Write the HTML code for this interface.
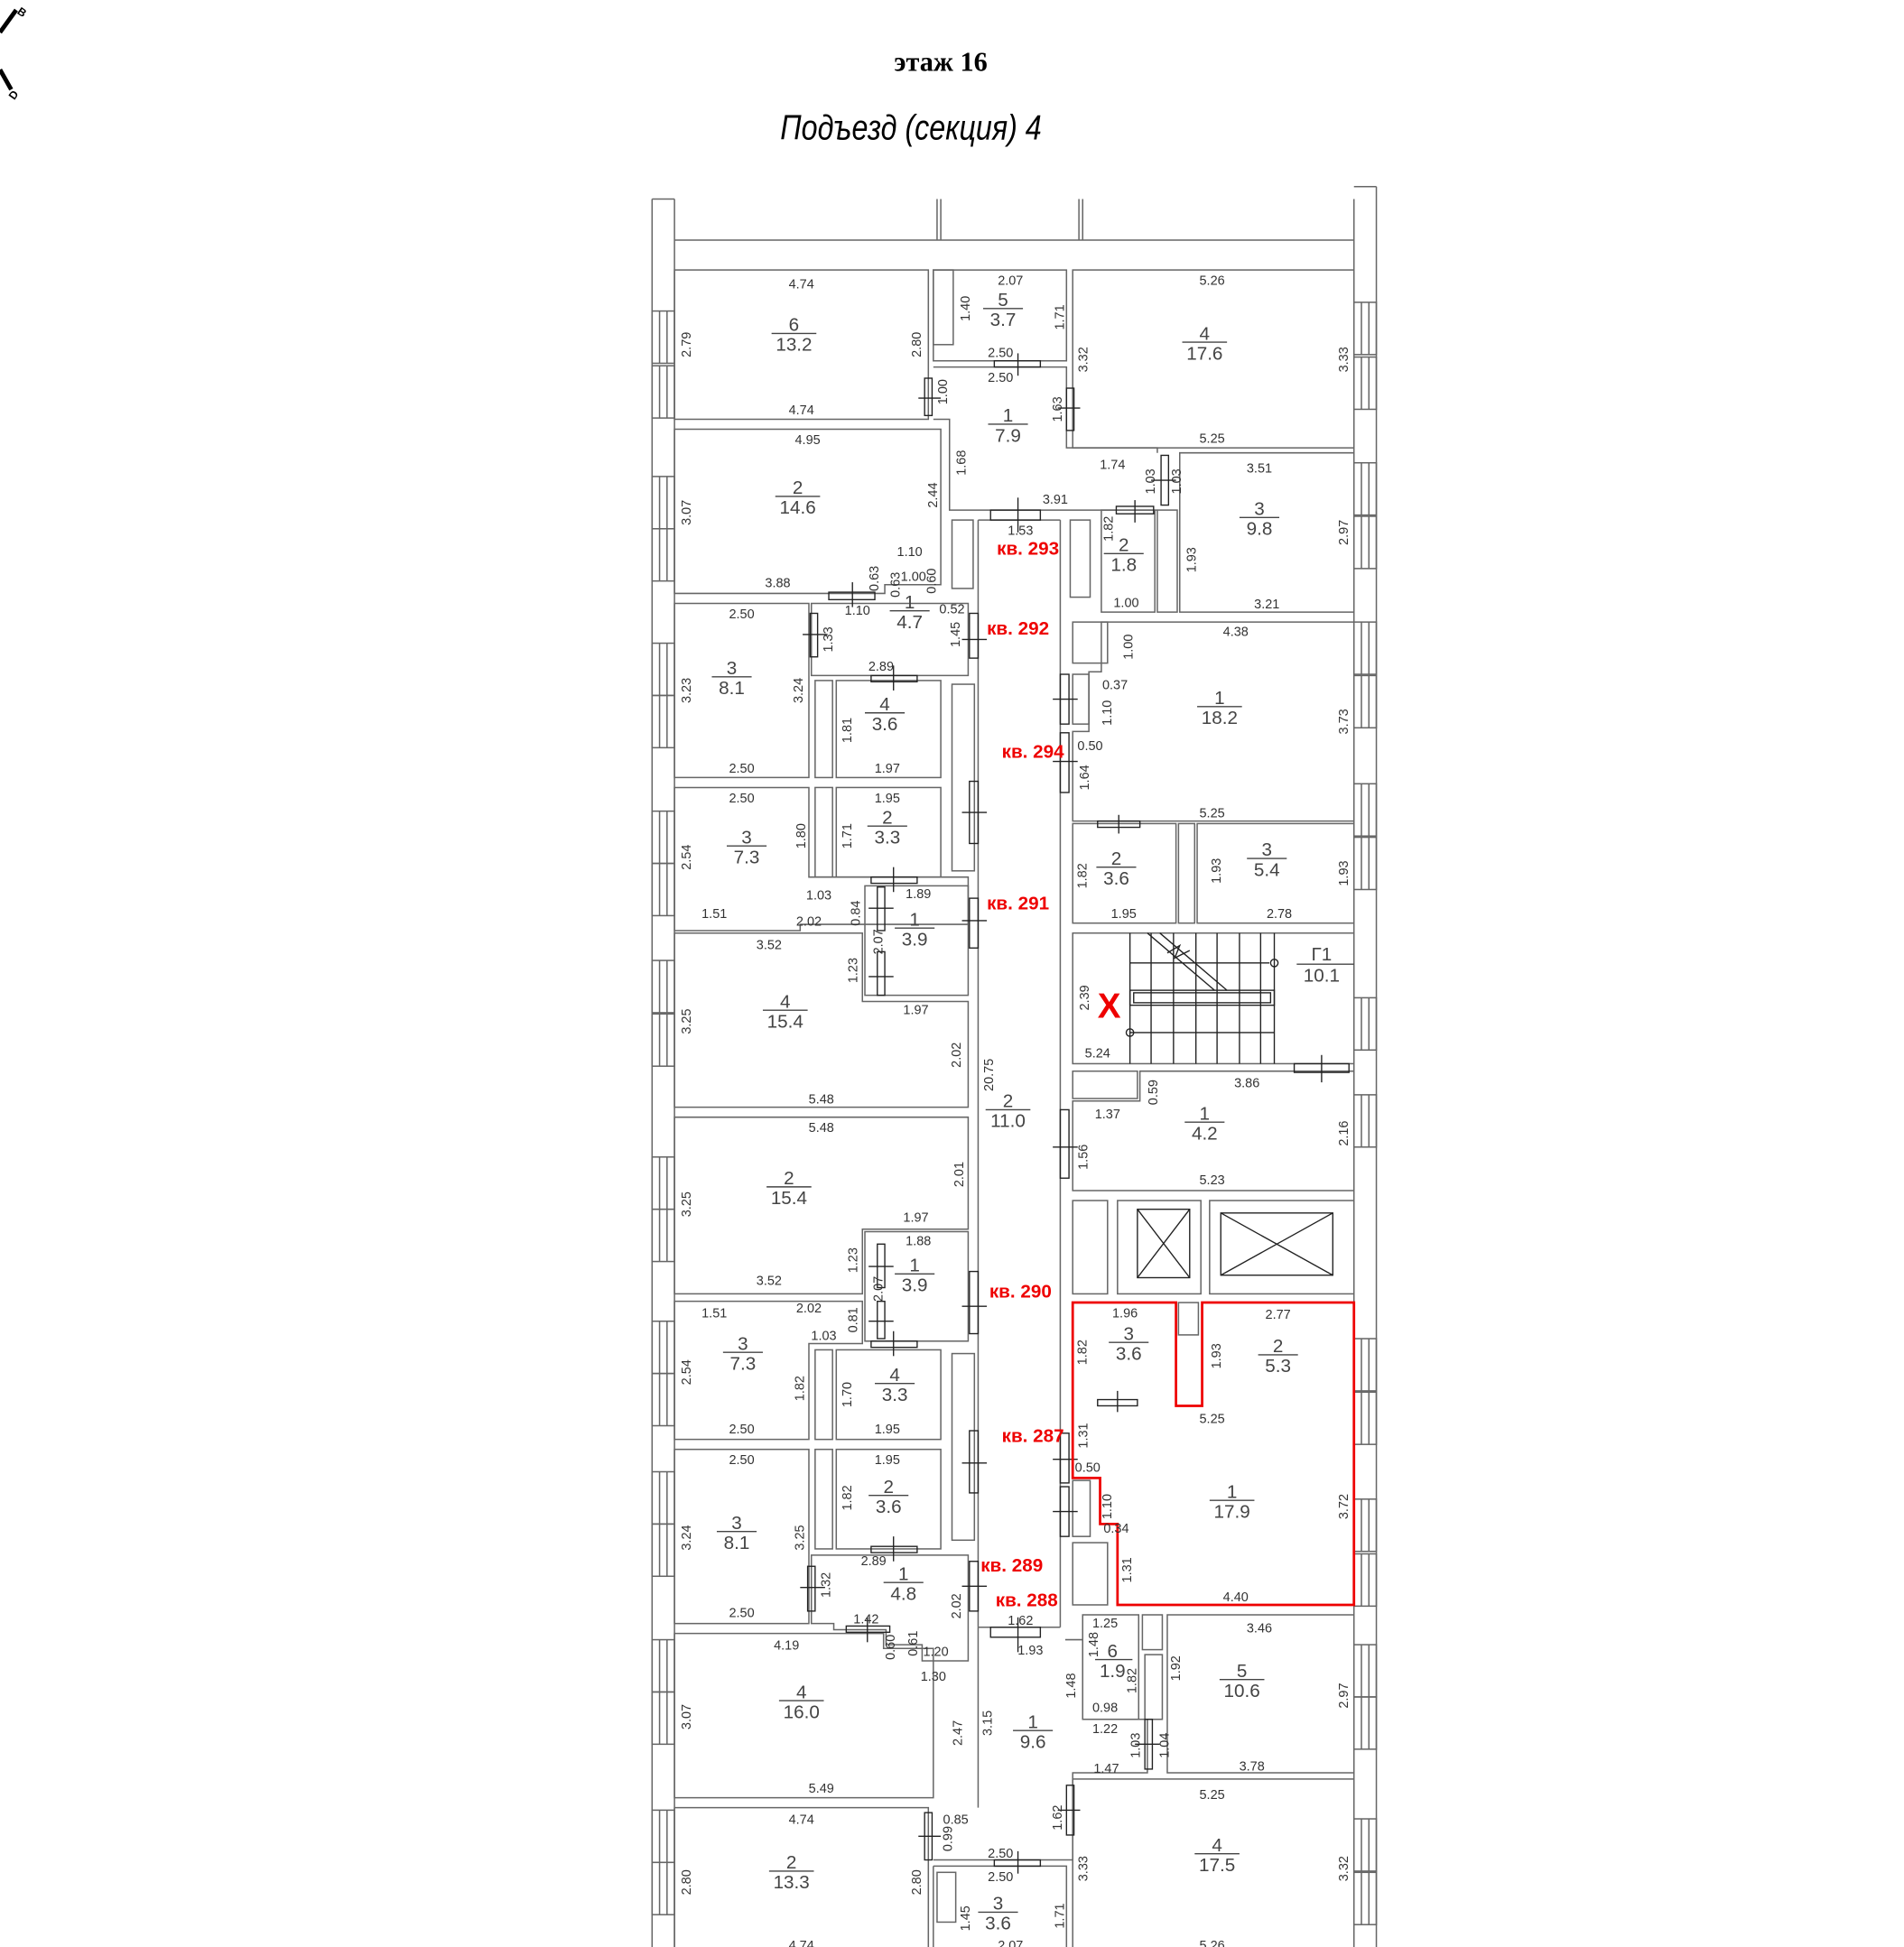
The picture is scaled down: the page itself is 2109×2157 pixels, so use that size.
<!DOCTYPE html>
<html><head><meta charset="utf-8"><style>
html,body{margin:0;padding:0;background:#fff}
svg{display:block}
text{font-family:"Liberation Sans",sans-serif}
.d{font-size:10.5px;fill:#333;text-anchor:middle}
.n{font-size:15px;fill:#444;text-anchor:middle}
.r{font-size:15px;fill:#e00;font-weight:bold;text-anchor:start}
.w{fill:none;stroke:#666;stroke-width:1.1}
.k{fill:none;stroke:#222;stroke-width:1}
.red{fill:none;stroke:#e00;stroke-width:2}
</style></head><body>
<svg width="2109" height="2157" viewBox="0 0 1530 1565" preserveAspectRatio="none" xmlns="http://www.w3.org/2000/svg">
<defs>
<g id="wl"><rect x="524" y="0" width="18" height="42" class="w"/><line x1="530" y1="0" x2="530" y2="42" class="w"/><line x1="536" y1="0" x2="536" y2="42" class="w"/></g>
<g id="wr"><rect x="1088" y="0" width="18" height="42" class="w"/><line x1="1094" y1="0" x2="1094" y2="42" class="w"/><line x1="1100" y1="0" x2="1100" y2="42" class="w"/></g>
</defs>
<!-- corner mark -->
<path d="M0 26 L13 8 M0 56 L9 72" stroke="#000" stroke-width="3.5" fill="none"/>
<text x="15" y="11" style="font-size:9px;font-weight:bold" transform="rotate(35 15 8)">В</text>
<text x="7" y="80" style="font-size:9px;font-weight:bold" transform="rotate(-55 10 76)">D</text>
<text x="756" y="57" style="font-family:'Liberation Serif',serif;font-size:22px;font-weight:bold" text-anchor="middle">этаж 16</text>
<text x="732" y="112" style="font-size:28px;font-style:italic" text-anchor="middle" textLength="210" lengthAdjust="spacingAndGlyphs">Подъезд (секция) 4</text>

<!-- outer walls -->
<path d="M524 160 V1568 M542 193 V1568 M1088 193 V1568 M1106 150 V1568 M524 160 H542 M1088 150 H1106 M542 193 H1088 M542 160 V193 M753 160 V193 M756 160 V193 M867 160 V193 M870 160 V193 M1088 160 V193" class="w"/>
<use href="#wl" y="250"/><use href="#wl" y="294"/><use href="#wl" y="383"/><use href="#wl" y="425"/>
<use href="#wl" y="517"/><use href="#wl" y="559"/><use href="#wl" y="652"/><use href="#wl" y="694"/>
<use href="#wl" y="772"/><use href="#wl" y="815"/><use href="#wl" y="930"/><use href="#wl" y="972"/>
<use href="#wl" y="1062"/><use href="#wl" y="1104"/><use href="#wl" y="1183"/><use href="#wl" y="1225"/>
<use href="#wl" y="1318"/><use href="#wl" y="1360"/><use href="#wl" y="1455"/><use href="#wl" y="1497"/>
<use href="#wr" y="243"/><use href="#wr" y="287"/><use href="#wr" y="372"/><use href="#wr" y="415"/>
<use href="#wr" y="500"/><use href="#wr" y="543"/><use href="#wr" y="630"/><use href="#wr" y="673"/>
<use href="#wr" y="802"/><use href="#wr" y="880"/><use href="#wr" y="1076"/><use href="#wr" y="1119"/>
<use href="#wr" y="1205"/><use href="#wr" y="1249"/><use href="#wr" y="1322"/><use href="#wr" y="1364"/>
<use href="#wr" y="1462"/><use href="#wr" y="1505"/>

<g class="w">
<rect x="542" y="217" width="204" height="120"/>
<path d="M542 345 H756 V470 H711 V477 H542 Z"/>
<path d="M542 485 H650 V625 H542 Z"/>
<path d="M652 485 H778 V543 H652 Z"/>
<rect x="672" y="547" width="84" height="78"/>
<rect x="655" y="547" width="14" height="78"/>
<path d="M542 633 H650 V705 H778 V743 H643 V748 H542 Z"/>
<rect x="672" y="633" width="84" height="72"/>
<rect x="655" y="633" width="14" height="72"/>
<path d="M695 712 H778 V800 H695 Z"/>
<path d="M542 750 H693 V805 H778 V890 H542 Z"/>
<path d="M542 898 H778 V988 H693 V1040 H542 Z"/>
<rect x="695" y="990" width="83" height="88"/>
<path d="M542 1046 H693 V1080 H650 V1157 H542 Z"/>
<rect x="672" y="1085" width="84" height="72"/>
<rect x="655" y="1085" width="14" height="72"/>
<rect x="542" y="1165" width="108" height="140"/>
<rect x="672" y="1165" width="84" height="80"/>
<rect x="655" y="1165" width="14" height="80"/>
<path d="M652 1250 H778 V1335 H741 V1322 H712 V1310 H670 V1305 H652 Z"/>
<path d="M542 1313 H710 V1325 H750 V1445 H542 Z"/>
<path d="M542 1453 H746 V1568 M542 1453 V1568"/>
<path d="M750 217 H857 V290 H750 Z"/>
<rect x="750" y="217" width="16" height="60"/>
<path d="M750 295 H857 V360 H930 V364 M750 337 H763 V410 H930"/>
<rect x="862" y="217" width="226" height="143"/>
<path d="M948 364 H1088 V492 H948 Z"/>
<rect x="885" y="410" width="43" height="82"/>
<rect x="930" y="410" width="16" height="82"/>
<rect x="765" y="418" width="17" height="55"/>
<rect x="860" y="418" width="16" height="62"/>
<path d="M786 418 V1308 M852 418 V1308 M786 418 H852"/>
<rect x="765" y="550" width="18" height="150"/>
<rect x="765" y="1088" width="18" height="150"/>
<rect x="862" y="500" width="28" height="33"/>
<rect x="862" y="542" width="13" height="40"/>
<path d="M885 500 H1088 V660 H862 V588 H875 V540 H885 Z"/>
<rect x="862" y="662" width="83" height="80"/>
<rect x="947" y="662" width="13" height="80"/>
<rect x="962" y="662" width="126" height="80"/>
<rect x="862" y="750" width="226" height="105"/>
<rect x="862" y="861" width="52" height="22"/>
<path d="M916 861 H1088 V957 H862 V885 H916 Z"/>
<rect x="862" y="965" width="28" height="75"/>
<rect x="898" y="965" width="67" height="75"/>
<rect x="972" y="965" width="116" height="75"/>
<rect x="947" y="1047" width="16" height="26"/>
<rect x="862" y="1240" width="28" height="50"/>
<rect x="862" y="1190" width="14" height="45"/>
<rect x="870" y="1298" width="45" height="84"/>
<rect x="918" y="1298" width="16" height="28"/>
<rect x="920" y="1330" width="14" height="52"/>
<path d="M938 1298 H1088 V1425 H938 Z"/>
<path d="M786 1308 H852 M786 1308 V1453 M856 1318 H870 V1382 H922 V1425 H862 V1495 M750 1495 H862"/>
<rect x="862" y="1430" width="226" height="138"/>
<path d="M750 1500 H857 V1568 M750 1500 V1568"/>
<rect x="753" y="1505" width="15" height="40"/>
</g>
<g class="k"><rect x="914" y="972" width="42" height="55"/><path d="M914 972 L956 1027 M956 972 L914 1027"/>
<rect x="981" y="975" width="90" height="50"/><path d="M981 975 L1071 1025 M1071 975 L981 1025"/></g>
<g class="k">
<path d="M908 750 V855 M925 750 V855 M943 750 V855 M961 750 V855 M978 750 V855 M996 750 V855 M1013 750 V855 M1024 750 V855"/>
<path d="M908 774 H1020 M908 830 H1024"/>
<rect x="908" y="796" width="116" height="12"/><rect x="911" y="798" width="110" height="8"/>
<path d="M922 750 L976 796 M932 750 L986 796 M938 766 L948 760 L944 770 L956 764"/>
<circle cx="1024" cy="774" r="3"/><circle cx="908" cy="830" r="3"/>
</g>
<text x="882" y="818" style="font-size:28px;fill:#e00;font-weight:bold">X</text>
<g class="k">
<rect x="796" y="410" width="40" height="8"/><path d="M818 400 V428"/>
<rect x="897" y="407" width="30" height="6"/><path d="M912 402 V420"/>
<rect x="933" y="366" width="6" height="40"/><path d="M925 386 H945"/>
<rect x="799" y="290" width="37" height="5"/><path d="M818 284 V302"/>
<rect x="743" y="304" width="6" height="30"/><path d="M738 320 H756"/>
<rect x="857" y="312" width="6" height="34"/><path d="M850 328 H868"/>
<rect x="666" y="476" width="37" height="6"/><path d="M685 468 V488"/>
<rect x="651" y="493" width="6" height="35"/><path d="M645 510 H665"/>
<rect x="779" y="493" width="7" height="36"/><path d="M773 514 H793"/>
<rect x="700" y="543" width="37" height="5"/><path d="M718 535 V555"/>
<rect x="852" y="542" width="7" height="40"/><path d="M846 562 H866"/>
<rect x="852" y="589" width="7" height="48"/><path d="M846 612 H866"/>
<rect x="779" y="628" width="7" height="50"/><path d="M773 653 H793"/>
<rect x="700" y="705" width="37" height="5"/><path d="M718 697 V717"/>
<rect x="705" y="713" width="6" height="35"/><path d="M698 730 H718"/>
<rect x="705" y="765" width="6" height="35"/><path d="M698 785 H718"/>
<rect x="779" y="722" width="7" height="40"/><path d="M773 740 H793"/>
<rect x="882" y="660" width="34" height="5"/><path d="M899 655 V670"/>
<rect x="1040" y="855" width="44" height="7"/><path d="M1062 848 V870"/>
<rect x="852" y="892" width="7" height="55"/><path d="M846 922 H866"/>
<rect x="705" y="1000" width="6" height="35"/><path d="M698 1018 H718"/>
<rect x="705" y="1046" width="6" height="30"/><path d="M698 1062 H718"/>
<rect x="779" y="1022" width="7" height="50"/><path d="M773 1050 H793"/>
<rect x="700" y="1078" width="37" height="5"/><path d="M718 1070 V1090"/>
<rect x="779" y="1150" width="7" height="50"/><path d="M773 1176 H793"/>
<rect x="852" y="1152" width="7" height="40"/><path d="M846 1173 H866"/>
<rect x="852" y="1195" width="7" height="40"/><path d="M846 1215 H866"/>
<rect x="882" y="1125" width="32" height="5"/><path d="M898 1118 V1135"/>
<rect x="700" y="1243" width="37" height="5"/><path d="M718 1235 V1255"/>
<rect x="649" y="1259" width="6" height="36"/><path d="M643 1276 H663"/>
<rect x="779" y="1255" width="7" height="40"/><path d="M773 1275 H793"/>
<rect x="680" y="1307" width="35" height="5"/><path d="M697 1300 V1320"/>
<rect x="796" y="1308" width="40" height="8"/><path d="M818 1300 V1328"/>
<rect x="920" y="1382" width="6" height="40"/><path d="M912 1402 H932"/>
<rect x="857" y="1435" width="6" height="40"/><path d="M850 1455 H868"/>
<rect x="743" y="1457" width="6" height="38"/><path d="M738 1476 H756"/>
<rect x="799" y="1495" width="37" height="5"/><path d="M818 1488 V1506"/>
</g>
<path d="M862 1047 H945 V1130 H966 V1047 H1088 V1290 H898 V1225 H884 V1188 H862 Z" class="red"/>

<g class="n">
<text x="638" y="266">6</text><text x="638" y="282">13.2</text><line x1="620" y1="268" x2="656" y2="268" stroke="#444"/>
<text x="641" y="397">2</text><text x="641" y="413">14.6</text><line x1="623" y1="399" x2="659" y2="399" stroke="#444"/>
<text x="806" y="246">5</text><text x="806" y="262">3.7</text><line x1="790" y1="248" x2="822" y2="248" stroke="#444"/>
<text x="968" y="273">4</text><text x="968" y="289">17.6</text><line x1="950" y1="275" x2="986" y2="275" stroke="#444"/>
<text x="810" y="339">1</text><text x="810" y="355">7.9</text><line x1="794" y1="341" x2="826" y2="341" stroke="#444"/>
<text x="1012" y="414">3</text><text x="1012" y="430">9.8</text><line x1="996" y1="416" x2="1028" y2="416" stroke="#444"/>
<text x="903" y="443">2</text><text x="903" y="459">1.8</text><line x1="887" y1="445" x2="919" y2="445" stroke="#444"/>
<text x="731" y="489">1</text><text x="731" y="505">4.7</text><line x1="715" y1="491" x2="747" y2="491" stroke="#444"/>
<text x="588" y="542">3</text><text x="588" y="558">8.1</text><line x1="572" y1="544" x2="604" y2="544" stroke="#444"/>
<text x="711" y="571">4</text><text x="711" y="587">3.6</text><line x1="695" y1="573" x2="727" y2="573" stroke="#444"/>
<text x="980" y="566">1</text><text x="980" y="582">18.2</text><line x1="962" y1="568" x2="998" y2="568" stroke="#444"/>
<text x="713" y="662">2</text><text x="713" y="678">3.3</text><line x1="697" y1="664" x2="729" y2="664" stroke="#444"/>
<text x="600" y="678">3</text><text x="600" y="694">7.3</text><line x1="584" y1="680" x2="616" y2="680" stroke="#444"/>
<text x="897" y="695">2</text><text x="897" y="711">3.6</text><line x1="881" y1="697" x2="913" y2="697" stroke="#444"/>
<text x="1018" y="688">3</text><text x="1018" y="704">5.4</text><line x1="1002" y1="690" x2="1034" y2="690" stroke="#444"/>
<text x="735" y="744">1</text><text x="735" y="760">3.9</text><line x1="719" y1="746" x2="751" y2="746" stroke="#444"/>
<text x="1062" y="772">Г1</text><text x="1062" y="789">10.1</text><line x1="1042" y1="775" x2="1088" y2="775" stroke="#444"/>
<text x="631" y="810">4</text><text x="631" y="826">15.4</text><line x1="613" y1="812" x2="649" y2="812" stroke="#444"/>
<text x="810" y="890">2</text><text x="810" y="906">11.0</text><line x1="792" y1="892" x2="828" y2="892" stroke="#444"/>
<text x="968" y="900">1</text><text x="968" y="916">4.2</text><line x1="952" y1="902" x2="984" y2="902" stroke="#444"/>
<text x="634" y="952">2</text><text x="634" y="968">15.4</text><line x1="616" y1="954" x2="652" y2="954" stroke="#444"/>
<text x="735" y="1022">1</text><text x="735" y="1038">3.9</text><line x1="719" y1="1024" x2="751" y2="1024" stroke="#444"/>
<text x="907" y="1077">3</text><text x="907" y="1093">3.6</text><line x1="891" y1="1079" x2="923" y2="1079" stroke="#444"/>
<text x="1027" y="1087">2</text><text x="1027" y="1103">5.3</text><line x1="1011" y1="1089" x2="1043" y2="1089" stroke="#444"/>
<text x="597" y="1085">3</text><text x="597" y="1101">7.3</text><line x1="581" y1="1087" x2="613" y2="1087" stroke="#444"/>
<text x="719" y="1110">4</text><text x="719" y="1126">3.3</text><line x1="703" y1="1112" x2="735" y2="1112" stroke="#444"/>
<text x="990" y="1204">1</text><text x="990" y="1220">17.9</text><line x1="972" y1="1206" x2="1008" y2="1206" stroke="#444"/>
<text x="714" y="1200">2</text><text x="714" y="1216">3.6</text><line x1="698" y1="1202" x2="730" y2="1202" stroke="#444"/>
<text x="592" y="1229">3</text><text x="592" y="1245">8.1</text><line x1="576" y1="1231" x2="608" y2="1231" stroke="#444"/>
<text x="726" y="1270">1</text><text x="726" y="1286">4.8</text><line x1="710" y1="1272" x2="742" y2="1272" stroke="#444"/>
<text x="894" y="1332">6</text><text x="894" y="1348">1.9</text><line x1="880" y1="1334" x2="910" y2="1334" stroke="#444"/>
<text x="998" y="1348">5</text><text x="998" y="1364">10.6</text><line x1="980" y1="1350" x2="1016" y2="1350" stroke="#444"/>
<text x="644" y="1365">4</text><text x="644" y="1381">16.0</text><line x1="626" y1="1367" x2="662" y2="1367" stroke="#444"/>
<text x="830" y="1389">1</text><text x="830" y="1405">9.6</text><line x1="814" y1="1391" x2="846" y2="1391" stroke="#444"/>
<text x="978" y="1488">4</text><text x="978" y="1504">17.5</text><line x1="960" y1="1490" x2="996" y2="1490" stroke="#444"/>
<text x="636" y="1502">2</text><text x="636" y="1518">13.3</text><line x1="618" y1="1504" x2="654" y2="1504" stroke="#444"/>
<text x="802" y="1535">3</text><text x="802" y="1551">3.6</text><line x1="786" y1="1537" x2="818" y2="1537" stroke="#444"/>
</g>
<g class="r">
<text x="801" y="446">кв. 293</text><text x="793" y="510">кв. 292</text><text x="805" y="609">кв. 294</text>
<text x="793" y="731">кв. 291</text><text x="795" y="1043">кв. 290</text><text x="805" y="1159">кв. 287</text>
<text x="788" y="1263">кв. 289</text><text x="800" y="1291">кв. 288</text>
</g>
<g class="d">
<text x="644" y="232">4.74</text><text x="812" y="229">2.07</text><text x="974" y="229">5.26</text>
<text x="804" y="287">2.50</text><text x="804" y="307">2.50</text><text x="644" y="333">4.74</text><text x="974" y="356">5.25</text>
<text x="649" y="357">4.95</text><text x="894" y="377">1.74</text><text x="1012" y="380">3.51</text><text x="848" y="405">3.91</text>
<text x="820" y="430">1.53</text><text x="731" y="447">1.10</text><text x="625" y="472">3.88</text><text x="734" y="467">1.00</text>
<text x="689" y="494">1.10</text><text x="765" y="493">0.52</text><text x="905" y="488">1.00</text><text x="1018" y="489">3.21</text>
<text x="596" y="497">2.50</text><text x="993" y="511">4.38</text><text x="708" y="539">2.89</text><text x="896" y="554">0.37</text>
<text x="876" y="603">0.50</text><text x="596" y="621">2.50</text><text x="713" y="621">1.97</text><text x="596" y="645">2.50</text>
<text x="713" y="645">1.95</text><text x="974" y="657">5.25</text><text x="658" y="723">1.03</text><text x="738" y="722">1.89</text>
<text x="574" y="738">1.51</text><text x="650" y="744">2.02</text><text x="903" y="738">1.95</text><text x="1028" y="738">2.78</text>
<text x="618" y="763">3.52</text><text x="736" y="815">1.97</text><text x="882" y="850">5.24</text><text x="1002" y="874">3.86</text>
<text x="660" y="887">5.48</text><text x="890" y="899">1.37</text><text x="660" y="910">5.48</text><text x="974" y="952">5.23</text>
<text x="736" y="982">1.97</text><text x="738" y="1001">1.88</text><text x="618" y="1033">3.52</text><text x="574" y="1059">1.51</text>
<text x="650" y="1055">2.02</text><text x="904" y="1059">1.96</text><text x="1027" y="1060">2.77</text><text x="662" y="1077">1.03</text>
<text x="974" y="1144">5.25</text><text x="596" y="1152">2.50</text><text x="713" y="1152">1.95</text><text x="596" y="1177">2.50</text>
<text x="713" y="1177">1.95</text><text x="874" y="1183">0.50</text><text x="897" y="1232">0.34</text><text x="702" y="1258">2.89</text>
<text x="993" y="1287">4.40</text><text x="596" y="1300">2.50</text><text x="696" y="1305">1.42</text><text x="820" y="1306">1.62</text>
<text x="888" y="1308">1.25</text><text x="1012" y="1312">3.46</text><text x="632" y="1326">4.19</text><text x="752" y="1331">1.20</text>
<text x="828" y="1330">1.93</text><text x="750" y="1351">1.30</text><text x="888" y="1376">0.98</text><text x="888" y="1393">1.22</text>
<text x="889" y="1425">1.47</text><text x="1006" y="1423">3.78</text><text x="660" y="1441">5.49</text><text x="974" y="1446">5.25</text>
<text x="644" y="1466">4.74</text><text x="768" y="1466">0.85</text><text x="804" y="1493">2.50</text><text x="804" y="1512">2.50</text>
<text x="644" y="1567">4.74</text><text x="812" y="1567">2.07</text><text x="974" y="1567">5.26</text>
</g>
<g class="d">
<text transform="translate(555,277) rotate(-90)">2.79</text><text transform="translate(740,277) rotate(-90)">2.80</text>
<text transform="translate(779,248) rotate(-90)">1.40</text><text transform="translate(855,255) rotate(-90)">1.71</text>
<text transform="translate(874,289) rotate(-90)">3.32</text><text transform="translate(1083,289) rotate(-90)">3.33</text>
<text transform="translate(761,315) rotate(-90)">1.00</text><text transform="translate(853,329) rotate(-90)">1.63</text>
<text transform="translate(776,372) rotate(-90)">1.68</text><text transform="translate(753,398) rotate(-90)">2.44</text>
<text transform="translate(555,412) rotate(-90)">3.07</text><text transform="translate(928,387) rotate(-90)">1.03</text>
<text transform="translate(949,387) rotate(-90)">1.03</text><text transform="translate(1083,428) rotate(-90)">2.97</text>
<text transform="translate(894,425) rotate(-90)">1.82</text><text transform="translate(961,450) rotate(-90)">1.93</text>
<text transform="translate(706,465) rotate(-90)">0.63</text><text transform="translate(723,470) rotate(-90)">0.63</text>
<text transform="translate(752,467) rotate(-90)">0.60</text><text transform="translate(771,510) rotate(-90)">1.45</text>
<text transform="translate(669,514) rotate(-90)">1.33</text><text transform="translate(910,520) rotate(-90)">1.00</text>
<text transform="translate(555,555) rotate(-90)">3.23</text><text transform="translate(645,555) rotate(-90)">3.24</text>
<text transform="translate(684,587) rotate(-90)">1.81</text><text transform="translate(893,573) rotate(-90)">1.10</text>
<text transform="translate(1083,580) rotate(-90)">3.73</text><text transform="translate(875,625) rotate(-90)">1.64</text>
<text transform="translate(647,672) rotate(-90)">1.80</text><text transform="translate(684,672) rotate(-90)">1.71</text>
<text transform="translate(555,689) rotate(-90)">2.54</text><text transform="translate(873,704) rotate(-90)">1.82</text>
<text transform="translate(981,700) rotate(-90)">1.93</text><text transform="translate(1083,702) rotate(-90)">1.93</text>
<text transform="translate(691,734) rotate(-90)">0.84</text><text transform="translate(709,757) rotate(-90)">2.07</text>
<text transform="translate(689,780) rotate(-90)">1.23</text><text transform="translate(875,802) rotate(-90)">2.39</text>
<text transform="translate(555,821) rotate(-90)">3.25</text><text transform="translate(772,848) rotate(-90)">2.02</text>
<text transform="translate(798,864) rotate(-90)">20.75</text><text transform="translate(930,878) rotate(-90)">0.59</text>
<text transform="translate(1083,911) rotate(-90)">2.16</text><text transform="translate(874,930) rotate(-90)">1.56</text>
<text transform="translate(774,944) rotate(-90)">2.01</text><text transform="translate(555,968) rotate(-90)">3.25</text>
<text transform="translate(689,1013) rotate(-90)">1.23</text><text transform="translate(709,1036) rotate(-90)">2.07</text>
<text transform="translate(689,1061) rotate(-90)">0.81</text><text transform="translate(873,1087) rotate(-90)">1.82</text>
<text transform="translate(981,1090) rotate(-90)">1.93</text><text transform="translate(555,1103) rotate(-90)">2.54</text>
<text transform="translate(646,1116) rotate(-90)">1.82</text><text transform="translate(684,1121) rotate(-90)">1.70</text>
<text transform="translate(874,1154) rotate(-90)">1.31</text><text transform="translate(684,1204) rotate(-90)">1.82</text>
<text transform="translate(893,1211) rotate(-90)">1.10</text><text transform="translate(1083,1211) rotate(-90)">3.72</text>
<text transform="translate(555,1236) rotate(-90)">3.24</text><text transform="translate(646,1236) rotate(-90)">3.25</text>
<text transform="translate(909,1262) rotate(-90)">1.31</text><text transform="translate(667,1274) rotate(-90)">1.32</text>
<text transform="translate(772,1291) rotate(-90)">2.02</text><text transform="translate(719,1324) rotate(-90)">0.60</text>
<text transform="translate(737,1321) rotate(-90)">0.61</text><text transform="translate(882,1322) rotate(-90)">1.48</text>
<text transform="translate(913,1351) rotate(-90)">1.82</text><text transform="translate(948,1341) rotate(-90)">1.92</text>
<text transform="translate(864,1355) rotate(-90)">1.48</text><text transform="translate(1083,1363) rotate(-90)">2.97</text>
<text transform="translate(555,1380) rotate(-90)">3.07</text><text transform="translate(797,1385) rotate(-90)">3.15</text>
<text transform="translate(773,1393) rotate(-90)">2.47</text><text transform="translate(916,1403) rotate(-90)">1.03</text>
<text transform="translate(939,1403) rotate(-90)">1.04</text><text transform="translate(853,1461) rotate(-90)">1.62</text>
<text transform="translate(765,1478) rotate(-90)">0.99</text><text transform="translate(874,1502) rotate(-90)">3.33</text>
<text transform="translate(1083,1502) rotate(-90)">3.32</text><text transform="translate(555,1513) rotate(-90)">2.80</text>
<text transform="translate(740,1513) rotate(-90)">2.80</text><text transform="translate(779,1542) rotate(-90)">1.45</text>
<text transform="translate(855,1540) rotate(-90)">1.71</text>
</g>
</svg>
</body></html>
